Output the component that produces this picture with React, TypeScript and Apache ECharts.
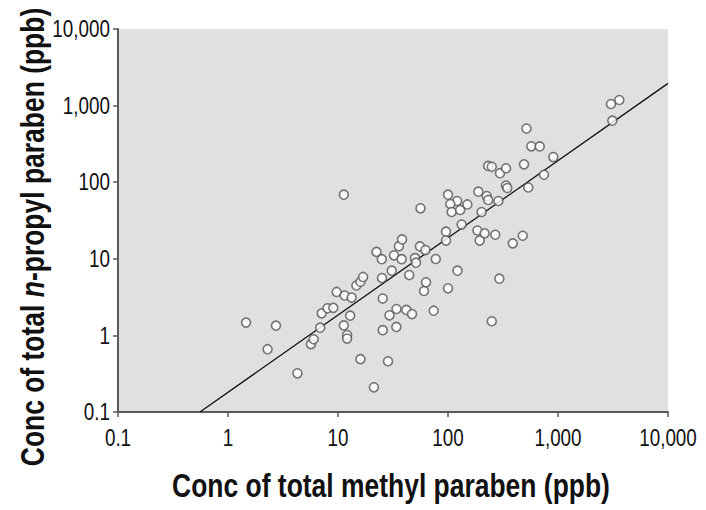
import React, { useEffect, useRef } from "react";
import * as echarts from "echarts";

// x = total methyl paraben (ppb), y = total n-propyl paraben (ppb)
const methylParaben: number[] = [
  1.46, 2.73, 2.29, 4.28, 5.68, 6.01, 6.89, 7.11, 8.03, 9.06,
  9.73, 11.5, 13.3, 12.9, 11.3, 12.1, 12.1, 16.0, 21.2, 14.7,
  16.0, 16.9, 11.3, 22.4, 25.0, 25.1, 30.8, 32.3, 35.8, 38.2,
  37.9, 25.5, 25.5, 28.5, 29.4, 34.0, 33.9, 41.8, 47.1, 44.4,
  50.1, 51.2, 55.6, 62.4, 77.4, 63.1, 60.5, 74.1, 100, 122,
  95.9, 95.9, 133, 56.2, 100, 121, 105, 108, 129, 150,
  189, 225, 232, 287, 202, 185, 215, 194, 269, 388,
  478, 293, 250, 232, 250, 297, 337, 337, 346, 517,
  572, 682, 907, 491, 746, 537, 3030, 3610, 3120,
];
const propylParaben: number[] = [
  1.47, 1.34, 0.66, 0.32, 0.77, 0.89, 1.26, 1.94, 2.26, 2.29,
  3.69, 3.32, 3.12, 1.81, 1.35, 1.01, 0.91, 0.49, 0.21, 4.48,
  5.02, 5.79, 68.7, 12.3, 9.88, 5.61, 6.99, 11.1, 14.6, 17.9,
  9.88, 3.03, 1.17, 0.46, 1.83, 2.21, 1.29, 2.15, 1.9, 6.14,
  10.2, 8.9, 14.5, 13.0, 9.94, 4.93, 3.8, 2.1, 4.12, 6.99,
  22.6, 17.3, 28.0, 45.6, 68.7, 56.8, 51.9, 40.8, 43.4, 51.2,
  75.2, 66.0, 58.6, 56.8, 40.8, 23.4, 21.5, 17.3, 20.6, 15.9,
  20.0, 5.5, 1.53, 163, 159, 131, 152, 90.6, 84.0, 502,
  294, 293, 213, 171, 125, 85.3, 1049, 1183, 635,
];
// regression line end points (x, y)
const fitX: number[] = [0.556, 10000];
const fitY: number[] = [0.1, 1950];
const tickValues: number[] = [0.1, 1, 10, 100, 1000, 10000];
const tickLabels: string[] = ["0.1", "1", "10", "100", "1,000", "10,000"];
const xTitle = "Conc of total methyl paraben (ppb)";
const yTitle = "Conc of total {i|n}-propyl paraben (ppb)";

const FONT = "'Liberation Sans', Arial, sans-serif";
const NARROW = 0.82;

export default function App() {
  const ref = useRef<HTMLDivElement>(null);
  useEffect(() => {
    if (!ref.current) return;
    const chart = echarts.init(ref.current, null, { renderer: "svg" });
    const points = methylParaben.map((x, i) => [x, propylParaben[i]]);
    const fit = fitX.map((x, i) => [x, fitY[i]]);
    const axisCommon = {
      type: "log" as const,
      logBase: 10,
      min: tickValues[0],
      max: tickValues[tickValues.length - 1],
      axisLine: { show: true, lineStyle: { color: "#5a5a5a", width: 2 } },
      axisTick: { show: true, length: 5, lineStyle: { color: "#5a5a5a", width: 1.5 } },
      splitLine: { show: false },
      minorTick: { show: false },
      axisLabel: { show: false },
    };
    chart.setOption({
      animation: false,
      backgroundColor: "#ffffff",
      grid: {
        left: 118,
        right: 38,
        top: 29,
        bottom: 98,
        show: true,
        backgroundColor: "#e0e0e0",
        borderWidth: 0,
      },
      xAxis: { ...axisCommon },
      yAxis: { ...axisCommon },
      series: [
        {
          type: "line",
          data: fit,
          symbol: "none",
          lineStyle: { color: "#111", width: 1.3 },
          z: 2,
        },
        {
          type: "scatter",
          data: points,
          symbol: "circle",
          symbolSize: 9,
          itemStyle: { color: "#ffffff", borderColor: "#555", borderWidth: 1.6 },
          z: 3,
        },
      ],
    });

    const tickStyle = { fontFamily: FONT, fontSize: 23, fill: "#111" };
    const xLabels = tickValues.map((v, i) => {
      const px = chart.convertToPixel({ xAxisIndex: 0 }, v) as number;
      return {
        type: "text",
        x: px,
        y: 438,
        scaleX: NARROW,
        style: { ...tickStyle, text: tickLabels[i], align: "center", verticalAlign: "middle" },
      };
    });
    const yLabels = tickValues.map((v, i) => {
      const py = chart.convertToPixel({ yAxisIndex: 0 }, v) as number;
      return {
        type: "text",
        x: 110,
        y: py,
        scaleX: NARROW,
        style: { ...tickStyle, text: tickLabels[i], align: "right", verticalAlign: "middle" },
      };
    });
    const titleStyle = { fontFamily: FONT, fontWeight: "bold", fontSize: 34, fill: "#111" };
    chart.setOption({
      graphic: [
        ...xLabels,
        ...yLabels,
        {
          type: "text",
          x: 391,
          y: 485,
          scaleX: 0.778,
          style: { ...titleStyle, text: xTitle, align: "center", verticalAlign: "middle" },
        },
        {
          type: "text",
          x: 32,
          y: 237,
          rotation: Math.PI / 2,
          scaleX: 0.778,
          style: {
            ...titleStyle,
            text: yTitle,
            align: "center",
            verticalAlign: "middle",
            rich: {
              i: { ...titleStyle, fontStyle: "italic" },
            },
          },
        },
      ],
    });
    return () => chart.dispose();
  }, []);
  return <div ref={ref} style={{ width: 706, height: 510, position: "absolute", left: 0, top: 0 }} />;
}
